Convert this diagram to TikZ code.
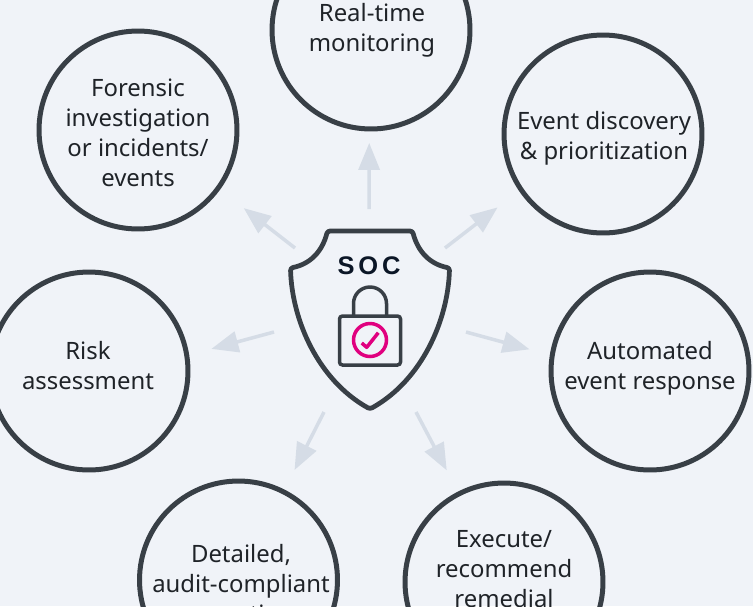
\documentclass[tikz,border=0pt]{standalone}
\usepackage{fontspec}
\setmainfont{Noto Sans}
\newfontfamily\socfont[LetterSpace=15]{Liberation Sans}
\usetikzlibrary{arrows.meta}

\definecolor{pagebg}{HTML}{F0F3F8}
\definecolor{ringcol}{HTML}{383F46}
\definecolor{flowcol}{HTML}{D5DCE6}
\definecolor{textcol}{HTML}{1F2328}
\definecolor{soccol}{HTML}{0B1626}
\definecolor{checkcol}{HTML}{E0007F}

\tikzset{
  ring/.style={draw=ringcol,line width=.1cm,circle,minimum size=3.96cm,inner sep=0pt,outer sep=0pt},
  ringtext/.style={text=textcol,align=center,font=\fontsize{13.6pt}{17.07pt}\selectfont,inner sep=0pt},
  flow/.style={draw=flowcol,line width=.07cm,-{Triangle[length=.54cm,width=.42cm]}}
}

\begin{document}
\begin{tikzpicture}[x=.02cm,y=-.02cm]
  \useasboundingbox (0,0) rectangle (753,606);
  \clip (0,0) rectangle (753,606);
  \fill[pagebg] (0,0) rectangle (753,606);

  % rings
  \node[ring] (realtime) at (371,30) {};
  \node[ring] (forensic) at (138,130) {};
  \node[ring] (discovery) at (603,134) {};
  \node[ring] (response) at (650,371) {};
  \node[ring] (risk) at (89,371) {};
  \node[ring] (audit) at (238.5,580) {};
  \node[ring] (remedial) at (504,582) {};

  \node[ringtext] (realtimetext) at (372,30) {Real-time\\monitoring};
  \node[ringtext] (forensictext) at (138,132.5) {Forensic\\investigation\\or incidents/\\events};
  \node[ringtext] (discoverytext) at (604,138) {Event discovery\\\& prioritization};
  \node[ringtext] (responsetext) at (650,368) {Automated\\event response};
  \node[ringtext] (risktext) at (88,366) {Risk\\assessment};
  \node[ringtext] (audittext) at (241,586) {Detailed,\\audit-compliant\\reporting};
  \node[ringtext] (remedialtext) at (504,569) {Execute/\\recommend\\remedial};

  % shield
  \draw[ringcol,line width=.095cm,line join=round,rounded corners=.05cm] (370,231) -- (412.5,231)
    .. controls (418,252) and (430,264) .. (449.5,268)
    .. controls (448,320) and (422,380) .. (370,409)
    .. controls (318,380) and (292,320) .. (290.5,268)
    .. controls (310,264) and (322,252) .. (327.5,231) -- cycle;
  \node[text=soccol,font=\socfont\fontsize{14.5pt}{16pt}\selectfont\bfseries,inner sep=0pt] (soc) at (369,266) {SOC};

  % lock
  \draw[ringcol,line width=.07cm,rounded corners=.06cm] (339.5,316) rectangle (400.5,365);
  \draw[ringcol,line width=.07cm] (353.5,316) -- (353.5,303.5) arc[start angle=180,end angle=0,x radius=16.5,y radius=-16.5] -- (386.5,316);
  \node[draw=checkcol,line width=.07cm,circle,minimum size=.66cm,inner sep=0pt,outer sep=0pt] (badge) at (370,340) {};
  \draw[checkcol,line width=.07cm,line join=round] (361.7,343) -- (366.7,347.3) -- (378.3,332.7);

  % arrows
  \coordinate (tailup) at (369,209);
  \coordinate (tailne) at (445,248);
  \coordinate (taile) at (466,332);
  \coordinate (tailse) at (416,412);
  \coordinate (tailsw) at (324,412);
  \coordinate (tailw) at (274,332);
  \coordinate (tailnw) at (295,248);
  \draw[flow,shorten >=.28cm] (tailup) -- (realtime.-91);
  \draw[flow,shorten >=.59cm] (tailne) -- (discovery.214);
  \draw[flow,shorten >=.47cm] (taile) -- (response.171);
  \draw[flow,shorten >=.53cm] (tailse) -- (remedial.117);
  \draw[flow,shorten >=.49cm] (tailsw) -- (audit.63);
  \draw[flow,shorten >=.51cm] (tailw) -- (risk.9);
  \draw[flow,shorten >=.65cm] (tailnw) -- (forensic.-36);
\end{tikzpicture}
\end{document}
